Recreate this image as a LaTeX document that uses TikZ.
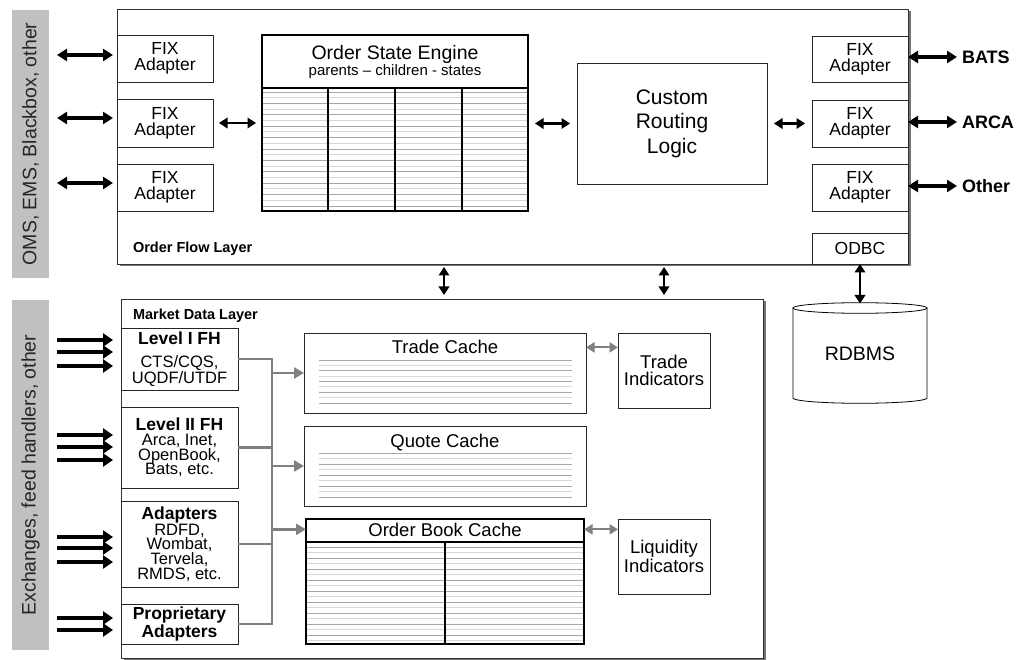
\documentclass[tikz,border=0pt]{standalone}
\usepackage{fontspec}
\setmainfont{Liberation Sans}
\usetikzlibrary{arrows.meta,shadows}
\definecolor{barg}{HTML}{C0C0C0}
\definecolor{lng}{HTML}{808080}
\definecolor{rowA}{HTML}{A8A8A8}
\definecolor{rowB}{HTML}{D8D8D8}
\newcommand\fhTitle{\fontsize{17.5}{15}\selectfont\bfseries}
\begin{document}
\begin{tikzpicture}[x=1pt,y=-1pt,
  every node/.style={inner sep=0pt, outer sep=0pt},
  box/.style={draw=black!85, line width=0.8pt, fill=white, align=center},
  layer/.style={draw=black!80, line width=0.8pt, fill=white,
     drop shadow={shadow xshift=2.5pt, shadow yshift=-2.5pt, fill=black!55, opacity=1}},
  gbar/.style={fill=barg, rotate=90, text=black!85, font=\fontsize{19.5}{19.5}\selectfont},
  fixbox/.style={box, minimum width=96pt, font=\fontsize{17.5}{16}\selectfont},
  fhbox/.style={box, minimum width=117pt, font=\fontsize{16.5}{14.8}\selectfont},
  cachebox/.style={box, minimum width=282pt, minimum height=80pt},
  indbox/.style={box, minimum width=92pt, minimum height=75pt, font=\fontsize{18.5}{17}\selectfont},
  lbl/.style={anchor=base, font=\fontsize{18.5}{18.5}\selectfont},
  extlbl/.style={anchor=west, font=\fontsize{18}{18}\selectfont\bfseries},
  laylbl/.style={anchor=base west, font=\fontsize{14.5}{14.5}\selectfont\bfseries},
  barrow/.style={{Triangle[length=10pt,width=12pt]}-{Triangle[length=10pt,width=12pt]}, line width=3.2pt},
  sarrow/.style={{Triangle[length=8.5pt,width=10.5pt]}-{Triangle[length=8.5pt,width=10.5pt]}, line width=2.6pt},
  inarrow/.style={-{Triangle[length=10pt,width=13pt]}, line width=4.8pt},
  gline/.style={draw=lng, line width=2.5pt},
  garrow/.style={gline, -{Triangle[length=10pt,width=11pt]}},
  gdarrow/.style={draw=lng, line width=2.2pt, {Triangle[length=8.5pt,width=10pt]}-{Triangle[length=8.5pt,width=10pt]}},
  rowline/.style={line width=0.9pt},
]
\useasboundingbox (0,0) rectangle (1023,660);

% side bars
\node[gbar, minimum width=268pt, minimum height=37pt] (gb1) at (30.5,144) {OMS, EMS, Blackbox, other};
\node[gbar, minimum width=350pt, minimum height=37pt] (gb2) at (30.5,475) {Exchanges, feed handlers, other};

% layers
\node[layer, minimum width=791pt, minimum height=255pt] (ofl) at (512.5,136.5) {};
\node[layer, minimum width=642pt, minimum height=359pt] (mdl) at (442,478.5) {};
\node[laylbl] (oflL) at (133,253) {Order Flow Layer};
\node[laylbl] (mdlL) at (133,320) {Market Data Layer};

% FIX adapters left
\node[fixbox, minimum height=47pt] (fixL1) at (165,58.5) {FIX\\Adapter};
\node[fixbox, minimum height=48pt] (fixL2) at (165,123) {FIX\\Adapter};
\node[fixbox, minimum height=47pt] (fixL3) at (165,187.5) {FIX\\Adapter};
% FIX adapters right
\node[fixbox, minimum height=46pt] (fixR1) at (860,59) {FIX\\Adapter};
\node[fixbox, minimum height=47pt] (fixR2) at (860,123.5) {FIX\\Adapter};
\node[fixbox, minimum height=47pt] (fixR3) at (860,187.5) {FIX\\Adapter};
\node[fixbox, minimum height=31pt] (odbc) at (860,248.5) {ODBC};

% Order State Engine
\foreach \k in {0,...,10}{\draw[rowline, rowA] (263,{92+\k*11.4}) -- (527,{92+\k*11.4});}
\foreach \k in {0,...,9}{\draw[rowline, rowB] (263,{97.7+\k*11.4}) -- (527,{97.7+\k*11.4});}
\node[draw=black, line width=2pt, minimum width=266pt, minimum height=176pt] (ose) at (395,123) {};
\draw[line width=2pt] (262,88) -- (528,88);
\draw[line width=1.3pt] (328,88) -- (328,211);
\draw[line width=2pt] (395,88) -- (395,211);
\draw[line width=1.3pt] (462,88) -- (462,211);
\node[anchor=base, font=\fontsize{19.5}{19.5}\selectfont] (oseT) at (395,60) {Order State Engine};
\node[anchor=base, font=\fontsize{15}{15}\selectfont] (oseS) at (395,76) {parents – children - states};

% Custom Routing Logic
\node[box, minimum width=190pt, minimum height=121pt, font=\fontsize{21}{24.5}\selectfont] (crl) at (672,123.5) {Custom\\Routing\\Logic};

% RDBMS
\node[minimum width=134pt, minimum height=101pt, font=\fontsize{19.5}{19.5}\selectfont] (rdbms) at (860,354) {RDBMS};
\draw[line width=0.8pt] (793,308) -- (793,398) arc[start angle=180, end angle=360, x radius=67pt, y radius=5.3pt] -- (927,308);
\draw[line width=0.8pt] (860,308) ellipse [x radius=67pt, y radius=5.3pt];

% external labels right
\node[extlbl] (bats) at (962,57) {BATS};
\node[extlbl] (arca) at (962,122) {ARCA};
\node[extlbl] (oth) at (962,186) {Other};

% free ends left
\coordinate (eL1) at (57,55);
\coordinate (eL2) at (57,118);
\coordinate (eL3) at (57,183);

% arrows order flow layer
\draw[barrow, shorten >=4pt] (eL1) -- (eL1 -| fixL1.west);
\draw[barrow, shorten >=4pt] (eL2) -- (eL2 -| fixL2.west);
\draw[barrow, shorten >=4pt] (eL3) -- (eL3 -| fixL3.west);
\draw[sarrow, shorten <=6pt, shorten >=6pt] (fixL2.east) -- (fixL2.east -| ose.west);
\draw[sarrow, shorten <=7pt, shorten >=7pt] (ose.east |- crl.west) -- (crl.west);
\draw[sarrow, shorten <=7pt, shorten >=7pt] (crl.east) -- (crl.east -| fixR2.west);
\draw[barrow, shorten >=5pt] (fixR1.east |- bats.west) -- (bats.west);
\draw[barrow, shorten >=5pt] (fixR2.east |- arca.west) -- (arca.west);
\draw[barrow, shorten >=5pt] (fixR3.east |- oth.west) -- (oth.west);

% between layers
\coordinate (v1) at (444,0);
\coordinate (v2) at (664,0);
\draw[sarrow, shorten <=3pt, shorten >=4pt] (ofl.south -| v1) -- (mdl.north -| v1);
\draw[sarrow, shorten <=3pt, shorten >=4pt] (ofl.south -| v2) -- (mdl.north -| v2);
\draw[sarrow] (odbc.south) -- (rdbms.north);

% feed handler boxes
\node[fhbox, minimum height=62pt] (fh1) at (179.5,359) {{\fhTitle Level I FH}\\[8pt]CTS/CQS,\\UQDF/UTDF};
\node[fhbox, minimum height=81pt] (fh2) at (179.5,447.5) {{\fhTitle Level II FH}\\Arca, Inet,\\OpenBook,\\Bats, etc.};
\node[fhbox, minimum height=86pt] (fh3) at (179.5,544) {{\fhTitle Adapters}\\RDFD,\\Wombat,\\Tervela,\\RMDS, etc.};
\node[fhbox, minimum height=40pt, font=\fhTitle] (fh4) at (179.5,624) {Proprietary\\Adapters};

% input arrows
\foreach \n/\y/\b in {a/340/fh1, b/352/fh1, c/366/fh1, d/435/fh2, e/447/fh2, f/460/fh2, g/537/fh3, h/548/fh3, i/562/fh3, j/618/fh4, k/630/fh4}{
  \coordinate (in\n) at (57,\y);
  \draw[inarrow, shorten >=8pt] (in\n) -- (in\n -| \b.west);
}

% caches
\node[cachebox] (tc) at (445,373) {};
\node[cachebox] (qc) at (445,466) {};
\foreach \k in {0,...,4}{\draw[rowline, rowA] (319,{360+\k*10.75}) -- (572,{360+\k*10.75});
  \draw[rowline, rowA] (319,{453+\k*11}) -- (572,{453+\k*11});}
\foreach \k in {0,...,3}{\draw[rowline, rowB] (319,{365.4+\k*10.75}) -- (572,{365.4+\k*10.75});
  \draw[rowline, rowB] (319,{458.5+\k*11}) -- (572,{458.5+\k*11});}
\node[lbl] (tcT) at (445,354) {Trade Cache};
\node[lbl] (qcT) at (445,447) {Quote Cache};

\foreach \k in {0,...,8}{\draw[rowline, rowA] (307,{547+\k*11}) -- (583,{547+\k*11});
  \draw[rowline, rowB] (307,{552.5+\k*11}) -- (583,{552.5+\k*11});}
\node[draw=black, line width=1.5pt, minimum width=278pt, minimum height=125pt] (obc) at (445,581.5) {};
\draw[line width=1.5pt] (306,542) -- (584,542);
\draw[line width=1.5pt] (445,542) -- (445,644);
\node[lbl] (obcT) at (445,536) {Order Book Cache};

\node[indbox] (ti) at (664,370.5) {Trade\\Indicators};
\node[indbox] (li) at (664,556.5) {Liquidity\\Indicators};

% gray connectors
\coordinate (bus) at (272,0);
\draw[gline] (fh1.east) -- (fh1.east -| bus) -- (fh4.east -| bus) -- (fh4.east);
\draw[gline] (fh2.east) -- (fh2.east -| bus);
\draw[gline] (fh3.east) -- (fh3.east -| bus);
\draw[garrow] (bus |- tc.west) -- (tc.west);
\draw[garrow] (bus |- qc.west) -- (qc.west);
\draw[garrow] (bus |- obcT) -- (obcT -| obc.west);
\draw[gdarrow] (tc.east |- tcT) -- (ti.west |- tcT);
\draw[gdarrow] (obcT -| obc.east) -- (obcT -| li.west);
\end{tikzpicture}
\end{document}
